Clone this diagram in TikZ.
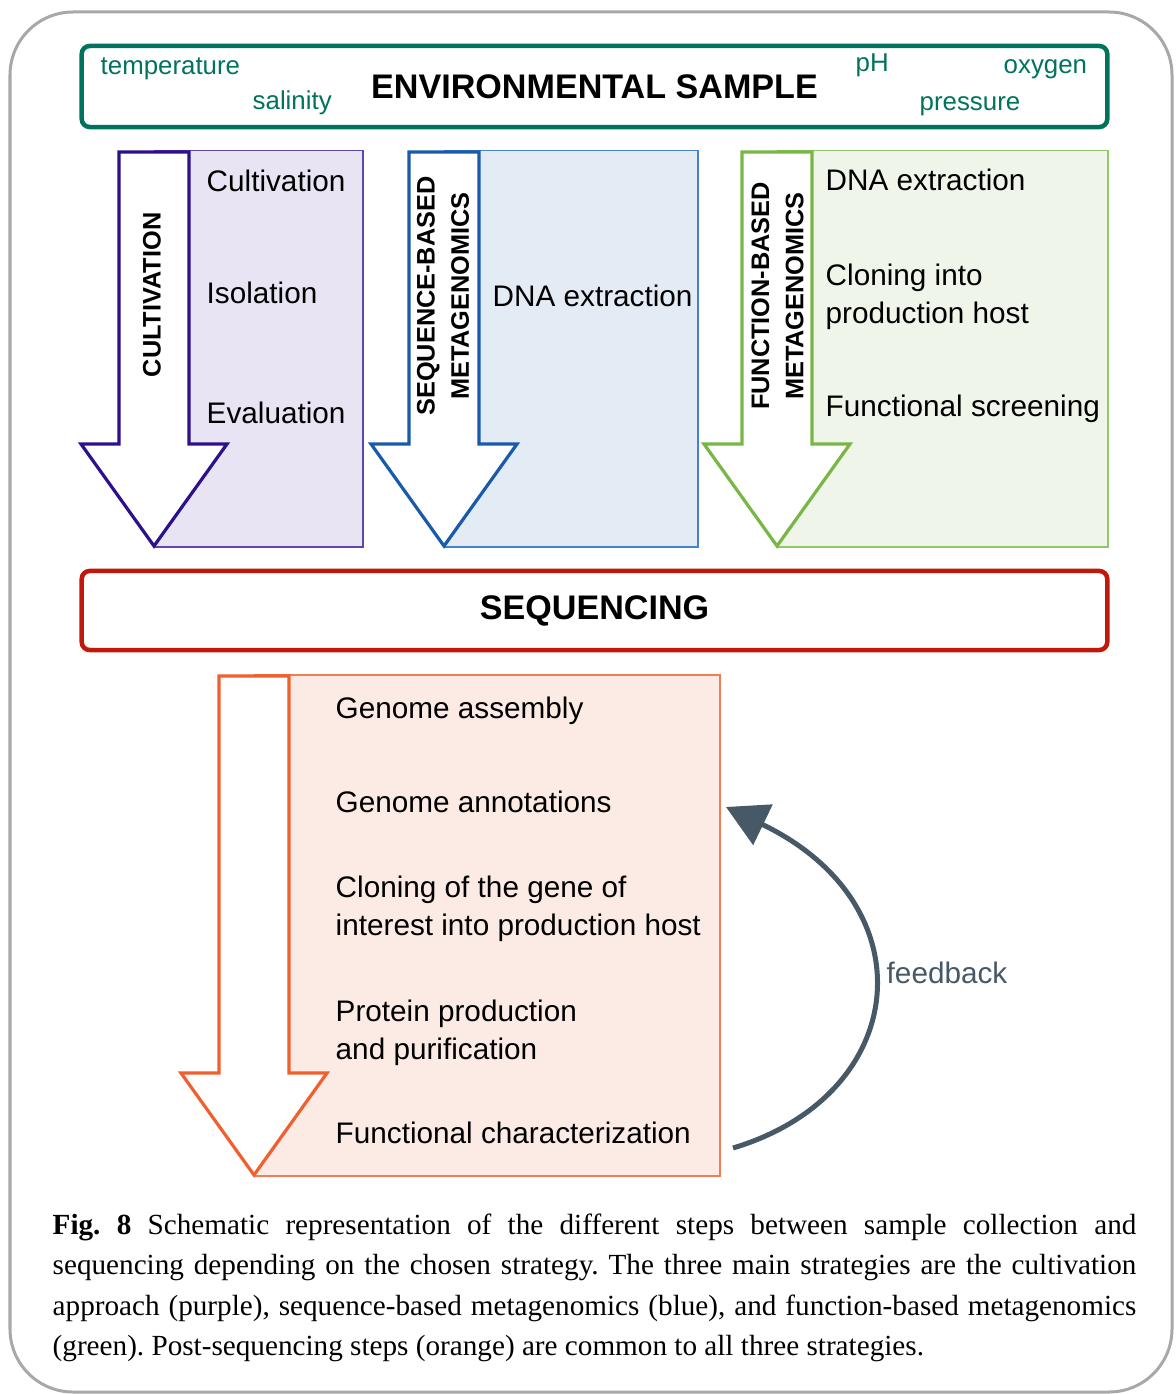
\documentclass[tikz,border=0pt]{standalone}
\usepackage{fontspec}
\setmainfont{Liberation Serif}
\setsansfont{Liberation Sans}
\usetikzlibrary{arrows.meta}

\definecolor{envteal}{RGB}{0,115,95}
\definecolor{seqred}{RGB}{192,24,10}
\definecolor{cultdark}{RGB}{46,16,140}
\definecolor{cultline}{RGB}{95,70,175}
\definecolor{cultfill}{RGB}{232,228,243}
\definecolor{sbdark}{RGB}{25,90,170}
\definecolor{sbline}{RGB}{70,130,205}
\definecolor{sbfill}{RGB}{227,236,245}
\definecolor{fbdark}{RGB}{120,182,70}
\definecolor{fbline}{RGB}{145,200,105}
\definecolor{fbfill}{RGB}{239,245,233}
\definecolor{postdark}{RGB}{240,95,45}
\definecolor{postline}{RGB}{242,125,85}
\definecolor{postfill}{RGB}{252,235,228}
\definecolor{slate}{RGB}{71,88,102}
\definecolor{framegray}{RGB}{168,168,168}

\begin{document}
\begin{tikzpicture}[x=0.01cm,y=-0.01cm,
  frame/.style={draw=framegray,line width=0.03cm,rounded corners=0.63cm},
  bigframe/.style={draw,line width=0.045cm,rounded corners=0.08cm,inner sep=0pt,
    font=\sffamily\bfseries\fontsize{9.7}{12}\selectfont},
  envlabel/.style={font=\sffamily\fontsize{7.35}{9}\selectfont,text=envteal,anchor=base west,inner sep=0pt},
  steptext/.style={font=\sffamily\fontsize{8.45}{10.7}\selectfont,anchor=base west,inner sep=0pt,align=left},
  sidetitle/.style={font=\sffamily\bfseries\fontsize{7.2}{9.7}\selectfont,rotate=90,align=center,inner sep=0pt},
  stepbox/.style={anchor=north west,line width=0.015cm,inner sep=0pt},
  blockarrow/.style={fill=white,line width=0.032cm},
  feedarrow/.style={draw=slate,line width=0.05cm,-{Triangle[length=0.41cm,width=0.44cm]}},
  caption/.style={anchor=north west,inner sep=0pt,text width=10.83cm,align=justify,
    font=\fontsize{8.3}{11.5}\selectfont\frenchspacing}
]
\useasboundingbox (0,0) rectangle (1175,1394);

% Outer frame
\draw[frame] (10,12) rectangle (1172,1392);

% Environmental sample
\node[bigframe,draw=envteal,minimum width=10.25cm,minimum height=0.81cm] (envbox) at (594.5,86.5) {ENVIRONMENTAL SAMPLE};
\node[envlabel] (temp) at (100,75) {temperature};
\node[envlabel] (salin) at (252,110) {salinity};
\node[envlabel] (ph) at (855,72) {pH};
\node[envlabel] (oxy) at (1003,74) {oxygen};
\node[envlabel] (press) at (919,111) {pressure};

% Cultivation
\node[stepbox,draw=cultline,fill=cultfill,minimum width=2.08cm,minimum height=3.96cm] (cultbox) at (154,150) {};
\draw[blockarrow,draw=cultdark] (119,152) -- (189,152) -- (189,444) -- (227,444) -- (154,546) -- (81,444) -- (119,444) -- cycle;
\node[sidetitle] (culttitle) at (152,295) {CULTIVATION};
\node[steptext] (cultA) at (206,192) {Cultivation};
\node[steptext] (cultB) at (206,303) {Isolation};
\node[steptext] (cultC) at (206,423) {Evaluation};

% Sequence-based metagenomics
\node[stepbox,draw=sbline,fill=sbfill,minimum width=2.53cm,minimum height=3.96cm] (sbbox) at (444,150) {};
\draw[blockarrow,draw=sbdark] (409,152) -- (479,152) -- (479,444) -- (517,444) -- (444,546) -- (371,444) -- (409,444) -- cycle;
\node[sidetitle] (sbtitle) at (443,296) {SEQUENCE-BASED\\METAGENOMICS};
\node[steptext] (sbA) at (492,306) {DNA extraction};

% Function-based metagenomics
\node[stepbox,draw=fbline,fill=fbfill,minimum width=3.30cm,minimum height=3.96cm] (fbbox) at (777,150) {};
\draw[blockarrow,draw=fbdark] (742,152) -- (812,152) -- (812,444) -- (850,444) -- (777,546) -- (704,444) -- (742,444) -- cycle;
\node[sidetitle] (fbtitle) at (777.5,296) {FUNCTION-BASED\\METAGENOMICS};
\node[steptext] (fbA) at (825,191) {DNA extraction};
\node[steptext] (fbB) at (825,323) {Cloning into\\production host};
\node[steptext] (fbC) at (825,416) {Functional screening};

% Sequencing
\node[bigframe,draw=seqred,minimum width=10.25cm,minimum height=0.79cm] (seqbox) at (594.5,610.5) {SEQUENCING};

% Post-sequencing
\node[stepbox,draw=postline,fill=postfill,minimum width=4.65cm,minimum height=5.01cm] (postbox) at (254,674) {};
\draw[blockarrow,draw=postdark] (219,676) -- (289,676) -- (289,1073) -- (327,1073) -- (254,1175) -- (181,1073) -- (219,1073) -- cycle;
\node[steptext] (postA) at (335,718) {Genome assembly};
\node[steptext] (postB) at (335,812) {Genome annotations};
\node[steptext] (postC) at (335,935) {Cloning of the gene of\\interest into production host};
\node[steptext] (postD) at (335,1059) {Protein production\\and purification};
\node[steptext] (postE) at (335,1143) {Functional characterization};

% Feedback loop
\coordinate (fbstart) at (733,1148);
\coordinate (fbend) at (726,807);
\draw[feedarrow] (fbstart) .. controls (910,1095) and (930,905) .. (fbend);
\node[steptext,text=slate] (fblabel) at (886,983) {feedback};

% Caption
\node[caption] (figcap) at (52,1213) {\textbf{Fig.\ 8} Schematic representation of the different steps between sample collection and\linebreak
sequencing depending on the chosen strategy. The three main strategies are the cultivation\linebreak
approach (purple), sequence-based metagenomics (blue), and function-based metagenomics\linebreak
(green). Post-sequencing steps (orange) are common to all three strategies.};

\end{tikzpicture}
\end{document}
